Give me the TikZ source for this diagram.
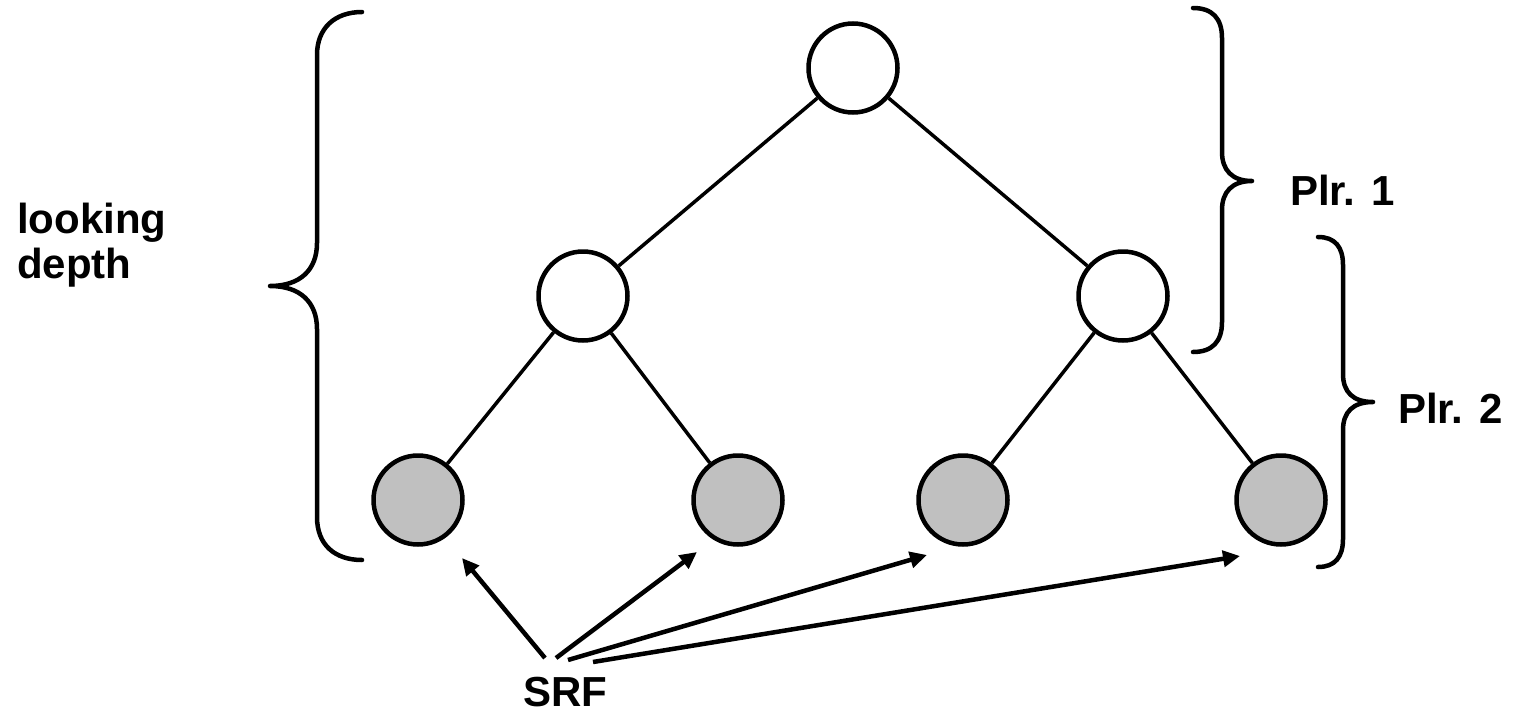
\documentclass[tikz,border=0pt]{standalone}
\usepackage{fontspec}
\setmainfont{Liberation Sans}
\usetikzlibrary{arrows.meta}
\definecolor{leafgray}{HTML}{C0C0C0}
\begin{document}
\begin{tikzpicture}[x=1pt,y=-1pt,
  inner/.style={circle,draw=black,line width=4.5pt,fill=white,minimum size=89pt,inner sep=0pt},
  leaf/.style={inner,fill=leafgray},
  edge/.style={line width=3.5pt},
  bracepath/.style={line width=4.5pt,line cap=round,line join=round},
  arrowline/.style={line width=4.5pt,-{Triangle[length=17pt,width=16pt]}},
  lbl/.style={font=\fontsize{42}{45}\selectfont\bfseries,inner sep=0pt,anchor=base west}]
\useasboundingbox (0,0) rectangle (1518,712);
% nodes
\node[inner] (root) at (853,68) {};
\node[inner] (ml) at (583,296) {};
\node[inner] (mr) at (1123,296) {};
\node[leaf] (l1) at (418,500) {};
\node[leaf] (l2) at (738,500) {};
\node[leaf] (l3) at (963,500) {};
\node[leaf] (l4) at (1281,500) {};
% edges
\draw[edge] (root) -- (ml);
\draw[edge] (root) -- (mr);
\draw[edge] (ml) -- (l1);
\draw[edge] (ml) -- (l2);
\draw[edge] (mr) -- (l3);
\draw[edge] (mr) -- (l4);
% braces
\draw[bracepath] (362,12) .. controls (335,12) and (317,28) .. (317,55) -- (317,243)
  .. controls (317,270) and (300,286) .. (270,286)
  .. controls (300,286) and (317,302) .. (317,329) -- (317,517)
  .. controls (317,545) and (335,560) .. (362,560);
\draw[bracepath] (1193,8) .. controls (1212,8) and (1222,18) .. (1222,38) -- (1222,152)
  .. controls (1222,170) and (1232,181) .. (1252,181)
  .. controls (1232,181) and (1222,192) .. (1222,210) -- (1222,322)
  .. controls (1222,342) and (1212,352) .. (1193,352);
\draw[bracepath] (1318,237) .. controls (1335,237) and (1343,247) .. (1343,265) -- (1343,374)
  .. controls (1343,392) and (1353,402) .. (1373,402)
  .. controls (1353,402) and (1343,412) .. (1343,430) -- (1343,539)
  .. controls (1343,557) and (1335,567) .. (1318,567);
% labels
\node[lbl,align=left] (depth) at (17,278) {looking\\depth};
\node[lbl] (p1) at (1290,205) {Plr. 1};
\node[lbl] (p2) at (1398,423) {Plr. 2};
\node[lbl] (srf) at (523,706) {SRF};
% arrows
\coordinate (s1) at (545,658);
\coordinate (s2) at (556,658);
\coordinate (s3) at (568,660);
\coordinate (s4) at (593,662);
\coordinate (e1) at (462,558);
\coordinate (e2) at (697,552);
\coordinate (e3) at (927,555);
\coordinate (e4) at (1240,556);
\draw[arrowline] (s1) -- (e1);
\draw[arrowline] (s2) -- (e2);
\draw[arrowline] (s3) -- (e3);
\draw[arrowline] (s4) -- (e4);
\end{tikzpicture}
\end{document}
